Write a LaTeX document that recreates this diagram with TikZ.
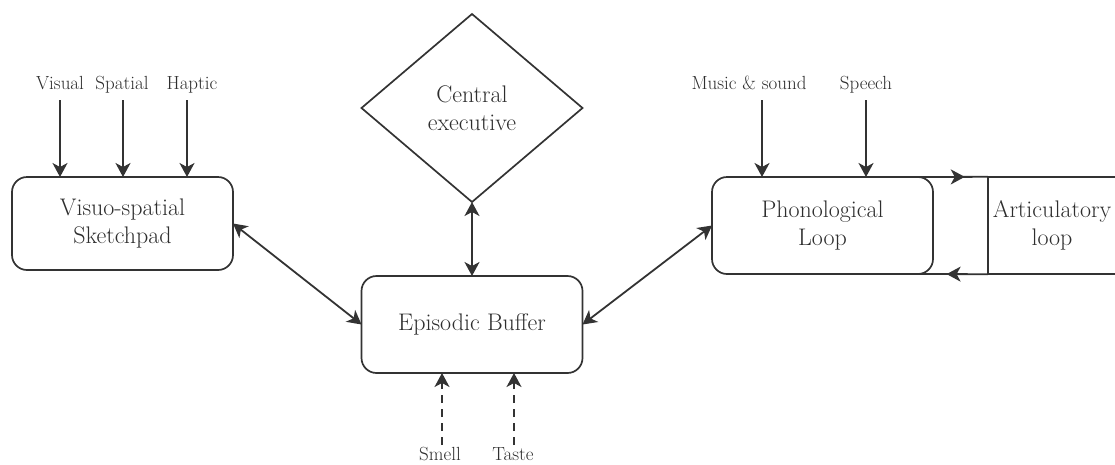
\documentclass[tikz,border=0pt]{standalone}
\usetikzlibrary{arrows.meta,shapes.geometric,decorations.markings}
\definecolor{ink}{HTML}{333333}
\definecolor{txt}{HTML}{2E2E2E}
\tikzset{ctip/.tip={Stealth[length=14pt,width=15pt,inset=4pt]}}
\begin{document}
\begin{tikzpicture}[x=1pt,y=-1pt,
  frame/.style={draw=ink,line width=1.7pt},
  box/.style={frame,rounded corners=15pt,align=center,inner sep=0pt,outer sep=0pt,
    text=txt,font=\fontsize{24}{28}\selectfont},
  lab/.style={text=txt,inner sep=0pt,anchor=base,font=\fontsize{19}{20}\selectfont},
  arr/.style={draw=ink,line width=1.8pt,-{ctip}},
  biarr/.style={draw=ink,line width=1.8pt,{ctip}-{ctip}},
  midarr/.style={draw=ink,line width=1.8pt,postaction={decorate},
    decoration={markings,mark=at position #1 with {\arrow{ctip}}}}
]
\useasboundingbox (0,0) rectangle (1115,464);

% the four stores
\node[box,minimum width=221pt,minimum height=93pt] (vss) at (122.5,223.5) {Visuo-spatial\\Sketchpad};
\node[box,minimum width=221pt,minimum height=97pt] (eb) at (472,324.5) {Episodic Buffer};
\node[box,minimum width=221pt,minimum height=97pt] (pl) at (822.5,225.5) {Phonological\\Loop};
\node[frame,diamond,minimum width=221pt,minimum height=188pt,inner sep=0pt,outer sep=0pt,
  align=center,text=txt,font=\fontsize{24}{28}\selectfont] (ce) at (472,108) {Central\\executive};

% articulatory loop, open towards the right edge
\node[align=center,inner sep=0pt,minimum width=128pt,minimum height=97pt,text=txt,
  font=\fontsize{24}{28}\selectfont] (al) at (1052,225.5) {Articulatory\\loop};
\draw[frame] ([xshift=3pt]al.north east) -- (al.north west) -- (al.south west) -- ([xshift=3pt]al.south east);

% rehearsal loop between phonological store and articulation
\draw[midarr=0.67] ([xshift=-15pt]pl.north east) -- (al.north west);
\draw[midarr=0.59] (al.south west) -- ([xshift=-15pt]pl.south east);

% links to the episodic buffer
\draw[biarr] (vss.east) -- (eb.west);
\draw[biarr] (pl.west) -- (eb.east);
\draw[biarr] (ce.south) -- (eb.north);

% visuo-spatial inputs
\node[lab] (vis) at (60,89) {Visual};
\node[lab] (spa) at (122,89) {Spatial};
\node[lab] (hap) at (192,89) {Haptic};
\coordinate (a1) at (60,100);
\coordinate (a2) at (123,100);
\coordinate (a3) at (187,100);
\draw[arr] (a1) -- (a1 |- vss.north);
\draw[arr] (a2) -- (a2 |- vss.north);
\draw[arr] (a3) -- (a3 |- vss.north);

% auditory inputs
\node[lab] (mus) at (749,89) {Music \& sound};
\node[lab] (spe) at (866,89) {Speech};
\coordinate (a4) at (762,100);
\coordinate (a5) at (866,100);
\draw[arr] (a4) -- (a4 |- pl.north);
\draw[arr] (a5) -- (a5 |- pl.north);

% other senses
\node[lab] (sme) at (440,460) {Smell};
\node[lab] (tas) at (513,460) {Taste};
\coordinate (a6) at (442,445);
\coordinate (a7) at (514,445);
\draw[arr,dash pattern=on 8pt off 6pt] (a6) -- (a6 |- eb.south);
\draw[arr,dash pattern=on 8pt off 6pt] (a7) -- (a7 |- eb.south);
\end{tikzpicture}
\end{document}
